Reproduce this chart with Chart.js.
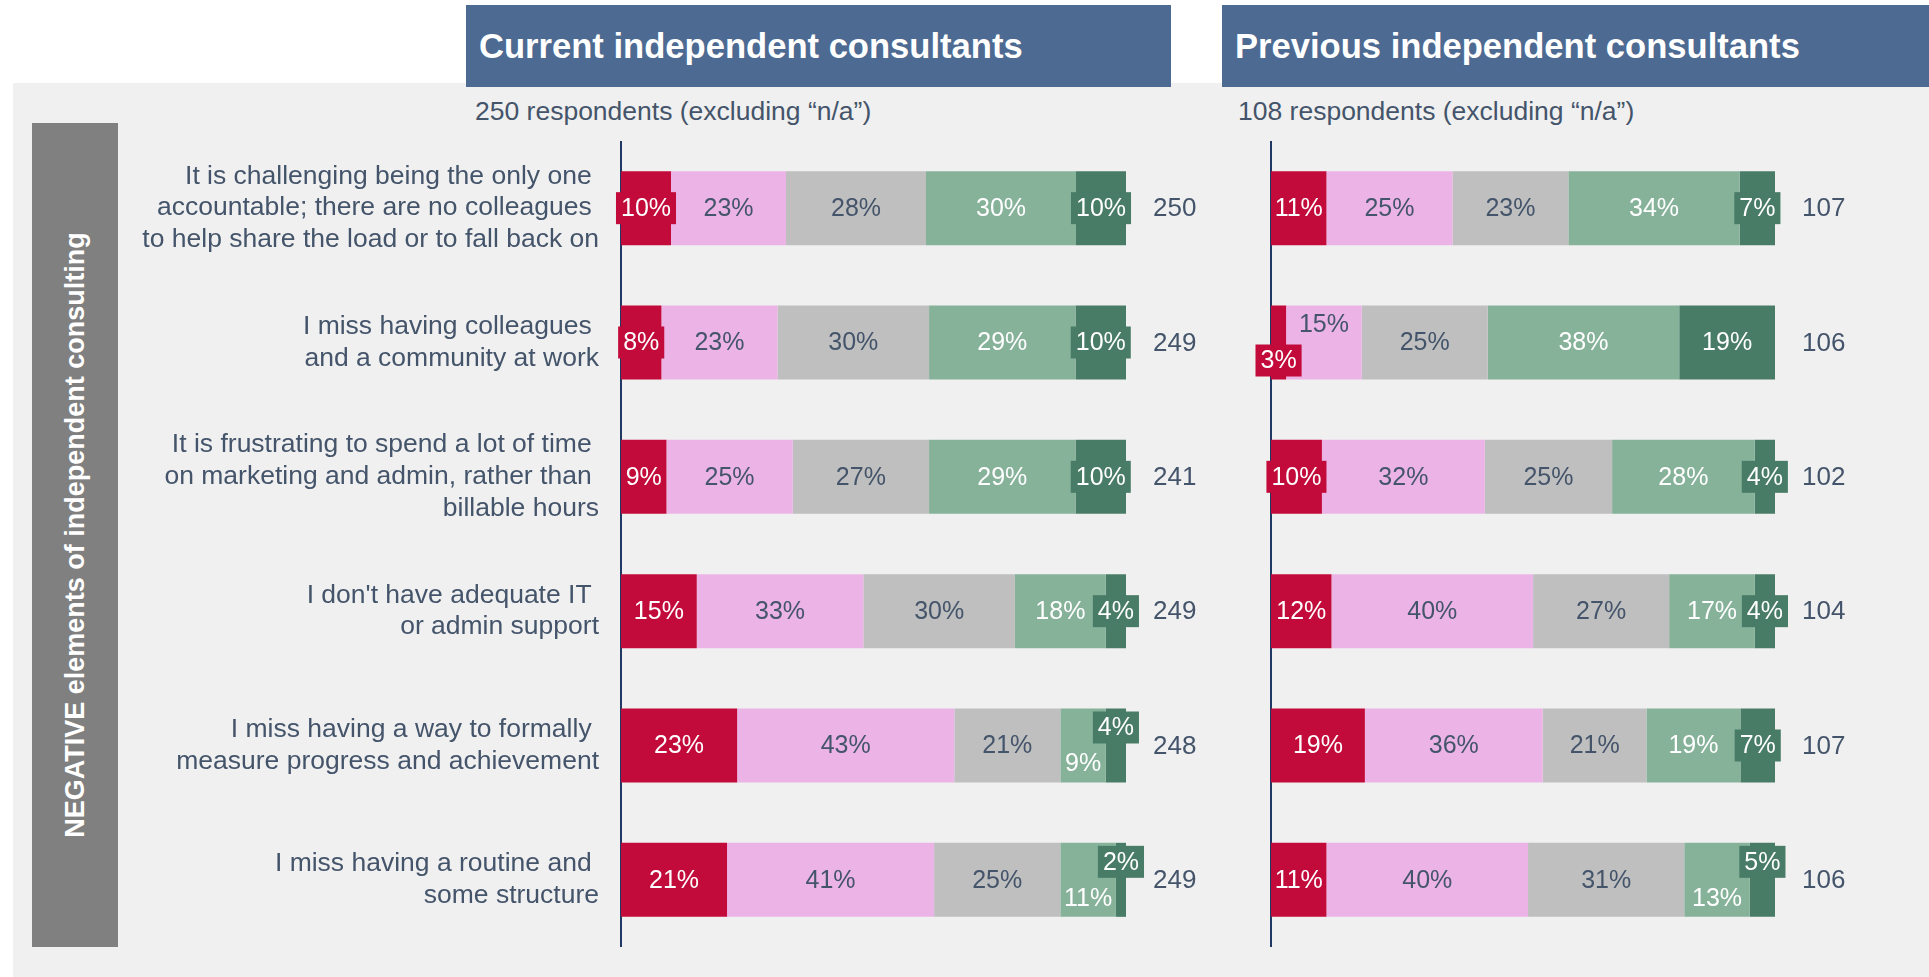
<!DOCTYPE html>
<html>
<head>
<meta charset="utf-8">
<script src="https://cdn.jsdelivr.net/npm/chart.js@4.4.1/dist/chart.umd.min.js"></script>
<style>
  body { margin: 0; width: 1929px; height: 977px; background: #fff; overflow: hidden;
         font-family: "Liberation Sans", Arial, sans-serif; position: relative; }
  .panel { position: absolute; left: 13px; top: 83px; width: 1916px; height: 894px; background: #F0F0F0; }
  .title { position: absolute; top: 5px; height: 82px; background: #4D6A92; color: #fff;
           font-weight: bold; font-size: 34.6px; line-height: 82px; padding-left: 13px; box-sizing: border-box; }
  .sub { position: absolute; top: 95px; font-size: 26.5px; color: #44546A; line-height: 32px; white-space: nowrap; }
  .side { position: absolute; left: 32px; top: 123px; width: 86px; height: 824px; background: #808080; }
  .side span { position: absolute; left: 50%; top: 50%; transform: translate(-50%, -50%) rotate(-90deg);
               white-space: nowrap; color: #fff; font-size: 27px; font-weight: bold; }
  canvas { position: absolute; }
</style>
</head>
<body>
<div class="panel"></div>
<div class="title" style="left:466px;width:705px">Current independent consultants</div>
<div class="title" style="left:1222px;width:707px">Previous independent consultants</div>
<div class="sub" style="left:475px">250 respondents (excluding “n/a”)</div>
<div class="sub" style="left:1238px">108 respondents (excluding “n/a”)</div>
<div class="side"><span>NEGATIVE elements of independent consulting</span></div>
<canvas id="current" width="1100" height="806" style="left:130px;top:141px"></canvas>
<canvas id="previous" width="679" height="806" style="left:1250px;top:141px"></canvas>
<script>
const categories = [
  ["It is challenging being the only one ", "accountable; there are no colleagues ", "to help share the load or to fall back on"],
  ["I miss having colleagues ", "and a community at work"],
  ["It is frustrating to spend a lot of time ", "on marketing and admin, rather than ", "billable hours"],
  ["I don't have adequate IT ", "or admin support"],
  ["I miss having a way to formally ", "measure progress and achievement"],
  ["I miss having a routine and ", "some structure"]
]

const currentLevel1 = [10, 8, 9, 15, 23, 21]
const currentLevel2 = [23, 23, 25, 33, 43, 41]
const currentLevel3 = [28, 30, 27, 30, 21, 25]
const currentLevel4 = [30, 29, 29, 18, 9, 11]
const currentLevel5 = [10, 10, 10, 4, 4, 2]
const currentCounts = [250, 249, 241, 249, 248, 249]

const previousLevel1 = [11, 3, 10, 12, 19, 11]
const previousLevel2 = [25, 15, 32, 40, 36, 40]
const previousLevel3 = [23, 25, 25, 27, 21, 31]
const previousLevel4 = [34, 38, 28, 17, 19, 13]
const previousLevel5 = [7, 19, 4, 4, 7, 5]
const previousCounts = [107, 106, 102, 104, 107, 106]

// styling
const colors = ["#C20B3B", "#ECB4E6", "#BFBFBF", "#86B29A", "#487C67"]
const labelColors = ["#fff", "#44546A", "#44546A", "#fff", "#fff"]
const SLATE = "#44546A"
const FONT = "'Liberation Sans', Arial, sans-serif"

// which small labels get a filled box, and which get nudged up (-1) or down (+1)
const currentBoxed = ["0-0", "0-4", "1-0", "1-4", "2-4", "3-4", "4-4", "5-4"]
const currentNudge = { "4-3": 1, "4-4": -1, "5-3": 1, "5-4": -1 }
const previousBoxed = ["0-4", "1-0", "2-0", "2-4", "3-4", "4-4", "5-4"]
const previousNudge = { "1-0": 1, "1-1": -1, "5-3": 1, "5-4": -1 }

const segmentLabels = {
  id: "segmentLabels",
  afterDatasetsDraw(chart, args, opts) {
    const ctx = chart.ctx
    const xScale = chart.scales.x
    ctx.save()
    ctx.textBaseline = "middle"
    ctx.textAlign = "center"
    ctx.font = "25px " + FONT
    chart.data.datasets.forEach((ds, s) => {
      const meta = chart.getDatasetMeta(s)
      meta.data.forEach((bar, i) => {
        const key = i + "-" + s
        const text = ds.raw[i] + "%"
        const cx = (bar.x + bar.base) / 2
        const cy = bar.y + (opts.nudge[key] || 0) * 18
        if (opts.boxed.includes(key)) {
          const w = ctx.measureText(text).width + 10
          ctx.fillStyle = colors[s]
          ctx.fillRect(cx - w / 2, cy - 16, w, 32)
        }
        ctx.fillStyle = labelColors[s]
        ctx.fillText(text, cx, cy + 1)
      })
    })
    // respondent counts to the right of each bar
    ctx.font = "26px " + FONT
    ctx.textAlign = "left"
    ctx.fillStyle = SLATE
    const end = xScale.getPixelForValue(100)
    chart.getDatasetMeta(0).data.forEach((bar, i) => {
      ctx.fillText(opts.counts[i], end + 27, bar.y + 1)
    })
    ctx.restore()
  }
}

function makeChart(id, series, counts, boxed, nudge, showLabels, axisWidth, rightPad) {
  const sums = categories.map((c, i) => series.reduce((a, arr) => a + arr[i], 0))
  const datasets = series.map((arr, s) => ({
    label: "Level " + (s + 1),
    data: arr.map((v, i) => v / sums[i] * 100),
    raw: arr,
    backgroundColor: colors[s],
    borderWidth: 0,
    categoryPercentage: 1,
    barPercentage: 0.551
  }))

  return new Chart(document.getElementById(id), {
    type: "bar",
    data: { labels: categories, datasets },
    plugins: [segmentLabels],
    options: {
      indexAxis: "y",
      responsive: false,
      animation: false,
      layout: { padding: { left: 0, right: rightPad, top: 0, bottom: 0 } },
      plugins: {
        legend: { display: false },
        tooltip: { enabled: false },
        segmentLabels: { counts, boxed, nudge }
      },
      scales: {
        x: { stacked: true, min: 0, max: 100, display: false },
        y: {
          stacked: true,
          grid: { display: false, drawTicks: false },
          border: { display: true, color: "#1F3864", width: 2 },
          ticks: {
            display: showLabels,
            padding: 22,
            color: SLATE,
            font: { family: FONT, size: 26.5, lineHeight: 1.2 }
          },
          afterFit: scale => {
            scale.width = axisWidth
            scale.paddingTop = 0
            scale.paddingBottom = 0
          }
        }
      }
    }
  })
}

makeChart("current",
  [currentLevel1, currentLevel2, currentLevel3, currentLevel4, currentLevel5],
  currentCounts, currentBoxed, currentNudge, true, 491, 104)

makeChart("previous",
  [previousLevel1, previousLevel2, previousLevel3, previousLevel4, previousLevel5],
  previousCounts, previousBoxed, previousNudge, false, 21, 154)
</script>
</body>
</html>
